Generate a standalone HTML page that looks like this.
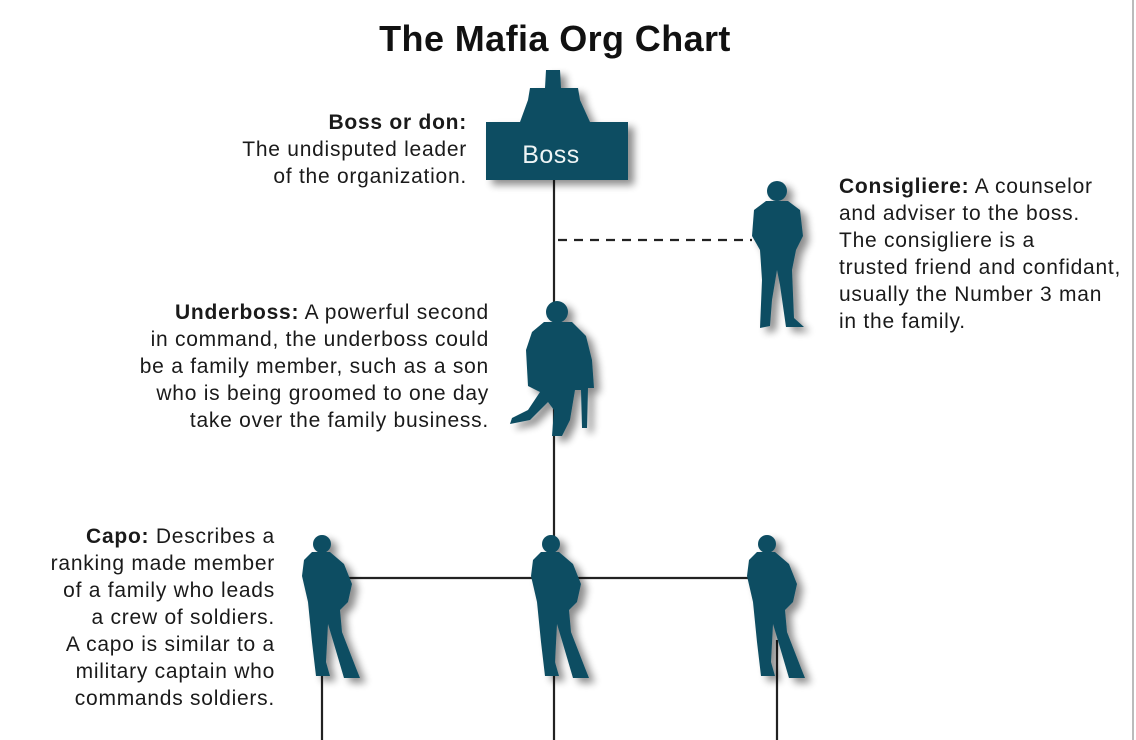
<!DOCTYPE html>
<html><head><meta charset="utf-8"><style>
body{margin:0;background:#fff;}
svg{display:block;font-family:"Liberation Sans",Arial,sans-serif;}
.t{font-size:21px;letter-spacing:0.75px;fill:#1a1a1a;}
</style></head><body>
<svg width="1136" height="740" viewBox="0 0 1136 740" xmlns="http://www.w3.org/2000/svg">
<defs>
<filter id="sh" x="-30%" y="-30%" width="170%" height="170%"><feGaussianBlur in="SourceAlpha" stdDeviation="4"/><feOffset dx="6" dy="5"/><feComponentTransfer><feFuncA type="linear" slope="0.45"/></feComponentTransfer><feMerge><feMergeNode/><feMergeNode in="SourceGraphic"/></feMerge></filter>
<g id="stand">
<circle cx="0" cy="-128" r="9"/>
<path d="M-10,-120 L8,-120 L22,-108 L30,-88 L26,-70 L18,-62 L20,-40 L34,-4 L38,6 L22,6 L12,-28 L6,-48 L4,-10 L8,4 L-6,4 L-10,-30 L-14,-70 L-20,-96 L-18,-112 Z"/>
</g>
</defs>
<line x1="1133" y1="0" x2="1133" y2="740" stroke="#bbb" stroke-width="2"/>
<text x="555" y="51" text-anchor="middle" font-size="36" font-weight="bold" fill="#111" letter-spacing="0.4">The Mafia Org Chart</text>
<g stroke="#222" stroke-width="2.2" fill="none">
<line x1="554" y1="180" x2="554" y2="740"/>
<line x1="558" y1="240" x2="752" y2="240" stroke-dasharray="9,7"/>
<line x1="335" y1="578" x2="752" y2="578"/>
<line x1="322" y1="628" x2="322" y2="740"/>
<line x1="777" y1="640" x2="777" y2="740"/>
</g>
<g fill="#0d4d62" filter="url(#sh)">
<path d="M546,70 L560,70 L561,88 L578,88 L580,100 L590,122 L628,122 L628,180 L486,180 L486,122 L520,122 L528,100 L530,88 L545,88 Z"/>
<circle cx="777" cy="191" r="10"/>
<path d="M766,201 L788,201 L800,210 L803,236 L796,250 L792,270 L794,318 L804,327 L786,327 L780,285 L777,270 L772,300 L770,326 L760,328 L762,280 L760,250 L752,236 L754,210 Z"/>
<circle cx="557" cy="312" r="11"/>
<path d="M544,322 L572,322 L586,336 L592,360 L594,388 L588,388 L587,428 L582,428 L581,390 L575,390 L570,420 L562,436 L552,436 L554,410 L548,402 L530,420 L510,424 L512,418 L528,410 L540,392 L528,386 L526,350 L532,332 Z"/>
<use href="#stand" x="322" y="672"/>
<use href="#stand" x="551" y="672"/>
<use href="#stand" x="767" y="672"/>
</g>
<text x="551" y="163" text-anchor="middle" font-size="25" fill="#eef4f5" letter-spacing="0.5">Boss</text>
<g class="t" text-anchor="end">
<text x="467" y="129"><tspan font-weight="bold">Boss or don:</tspan></text>
<text x="467" y="156">The undisputed leader</text>
<text x="467" y="183">of the organization.</text>
<text x="489" y="319"><tspan font-weight="bold">Underboss:</tspan> A powerful second</text>
<text x="489" y="346">in command, the underboss could</text>
<text x="489" y="373">be a family member, such as a son</text>
<text x="489" y="400">who is being groomed to one day</text>
<text x="489" y="427">take over the family business.</text>
<text x="275" y="543"><tspan font-weight="bold">Capo:</tspan> Describes a</text>
<text x="275" y="570">ranking made member</text>
<text x="275" y="597">of a family who leads</text>
<text x="275" y="624">a crew of soldiers.</text>
<text x="275" y="651">A capo is similar to a</text>
<text x="275" y="678">military captain who</text>
<text x="275" y="705">commands soldiers.</text>
</g>
<g class="t">
<text x="839" y="193"><tspan font-weight="bold">Consigliere:</tspan> A counselor</text>
<text x="839" y="220">and adviser to the boss.</text>
<text x="839" y="247">The consigliere is a</text>
<text x="839" y="274">trusted friend and confidant,</text>
<text x="839" y="301">usually the Number 3 man</text>
<text x="839" y="328">in the family.</text>
</g>
</svg>
</body></html>
